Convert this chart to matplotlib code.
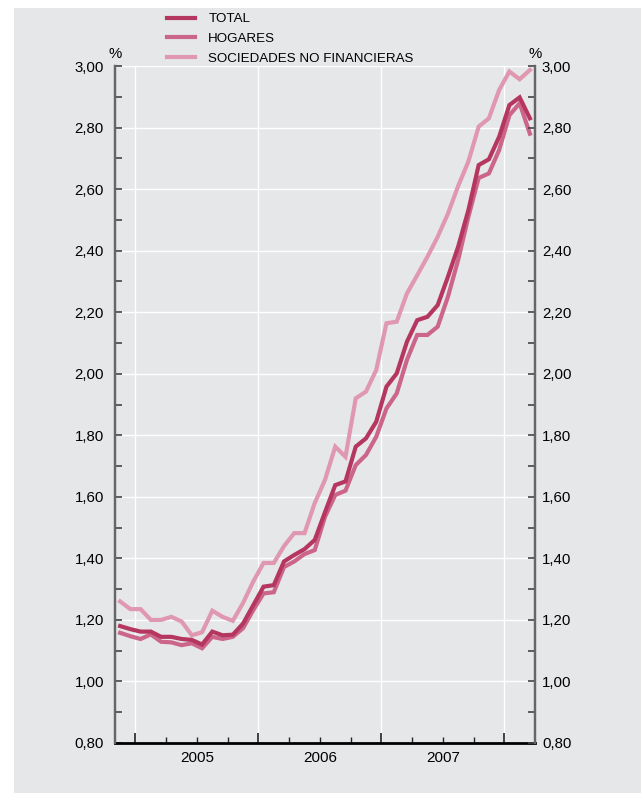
import numpy as np
import matplotlib.pyplot as plt
from matplotlib.patches import Rectangle
from matplotlib.ticker import FixedLocator, FixedFormatter, NullFormatter

plt.rcParams['font.family'] = ['Liberation Sans', 'DejaVu Sans']

# monthly data, Nov 2004 .. Mar 2008 (41 months)
total = [1.180, 1.170, 1.162, 1.162, 1.145, 1.145, 1.138, 1.135, 1.120, 1.162,
         1.150, 1.152, 1.188, 1.248, 1.308, 1.313, 1.390, 1.411, 1.430, 1.460,
         1.550, 1.638, 1.650, 1.763, 1.790, 1.844, 1.958, 2.001, 2.104, 2.174,
         2.185, 2.223, 2.315, 2.413, 2.532, 2.678, 2.697, 2.770, 2.873, 2.898,
         2.830]
hogares = [1.158, 1.147, 1.138, 1.153, 1.129, 1.127, 1.118, 1.124, 1.108, 1.145,
           1.138, 1.145, 1.173, 1.232, 1.286, 1.290, 1.372, 1.390, 1.414, 1.427,
           1.535, 1.606, 1.620, 1.703, 1.736, 1.795, 1.887, 1.936, 2.045, 2.126,
           2.126, 2.153, 2.250, 2.370, 2.510, 2.636, 2.651, 2.727, 2.840, 2.879,
           2.780]
sociedades = [1.260, 1.235, 1.235, 1.200, 1.200, 1.210, 1.195, 1.150, 1.160, 1.230,
              1.210, 1.197, 1.255, 1.325, 1.385, 1.385, 1.440, 1.482, 1.482, 1.580,
              1.655, 1.763, 1.730, 1.920, 1.942, 2.012, 2.164, 2.169, 2.261, 2.320,
              2.380, 2.445, 2.520, 2.610, 2.690, 2.803, 2.830, 2.922, 2.982, 2.957,
              2.987]
years = ['2005', '2006', '2007']
labels = ['TOTAL', 'HOGARES', 'SOCIEDADES NO FINANCIERAS']
colors = ['#B5365F', '#CB6589', '#DF98B0']

bg = '#E6E7E9'
x = np.arange(len(total)) + 0.5  # month midpoints, 0 = start Nov 2004

fig = plt.figure(figsize=(6.41, 7.93), dpi=100)
fig.patches.append(Rectangle((14 / 641, 0), 1, 1 - 8 / 793, transform=fig.transFigure,
                             facecolor=bg, edgecolor='none', zorder=-10))

ax = fig.add_axes([115 / 641, 50 / 793, 420 / 641, 677 / 793])
ax.set_facecolor(bg)

lines = {}
for name, vals, c in zip(labels[::-1], [sociedades, hogares, total], colors[::-1]):
    lines[name], = ax.plot(x, vals, color=c, lw=3.0, solid_joinstyle='miter', zorder=3)

ax.set_xlim(0, 41)
ax.set_ylim(0.8, 3.0)

year_starts = [2, 14, 26, 38]
quarters = [q for q in range(2, 41, 3) if q not in year_starts]
ax.xaxis.set_major_locator(FixedLocator(year_starts))
ax.xaxis.set_major_formatter(NullFormatter())
ax.xaxis.set_minor_locator(FixedLocator(quarters))
mid = {8: years[0], 20: years[1], 32: years[2]}
ax.xaxis.set_minor_formatter(FixedFormatter([mid.get(q, '') for q in quarters]))

yt = np.arange(0.8, 3.001, 0.2)
ylabs = [f'{v:.2f}'.replace('.', ',') for v in yt]
ax.set_yticks(yt)
ax.set_yticks(np.arange(0.9, 3.0, 0.2), minor=True)
ax.set_yticklabels(ylabs)

ax.tick_params(axis='x', which='major', direction='in', length=7, width=1.2, color='#222222')
ax.tick_params(axis='x', which='minor', direction='in', length=4, width=1.0, color='#222222',
               labelsize=11, pad=6)
ax.tick_params(axis='y', which='both', direction='in', length=5, width=1.2, color='#444444',
               labelsize=10.8, pad=8)

ax2 = ax.twinx()
ax2.set_ylim(ax.get_ylim())
ax2.set_yticks(yt)
ax2.set_yticks(np.arange(0.9, 3.0, 0.2), minor=True)
ax2.set_yticklabels(ylabs)
ax2.tick_params(axis='y', which='both', direction='in', length=5, width=1.2, color='#444444',
                labelsize=10.8, pad=5)
for a in (ax, ax2):
    a.spines['top'].set_visible(False)
    for s in ['left', 'right']:
        a.spines[s].set_color('#666666')
        a.spines[s].set_linewidth(1.6)
ax2.spines['bottom'].set_visible(False)

ax.grid(True, which='major', color='white', lw=1.0, zorder=1)
ax.set_axisbelow(True)

ax.spines['bottom'].set_color('black')
ax.spines['bottom'].set_linewidth(2.0)

ax.annotate('%', xy=(0, 1), xycoords='axes fraction', xytext=(0, 3.5),
            textcoords='offset points', ha='center', va='bottom', fontsize=10.8)
ax.annotate('%', xy=(1, 1), xycoords='axes fraction', xytext=(0, 3.5),
            textcoords='offset points', ha='center', va='bottom', fontsize=10.8)

fig.legend([lines[l] for l in labels], labels, loc='upper left',
           bbox_to_anchor=(167 / 641, 1 - 13 / 793), frameon=False, fontsize=9.6,
           handlelength=2.1, handletextpad=1.0, labelspacing=0.55, borderpad=0,
           borderaxespad=0)

fig.savefig('out.png', dpi=100)
